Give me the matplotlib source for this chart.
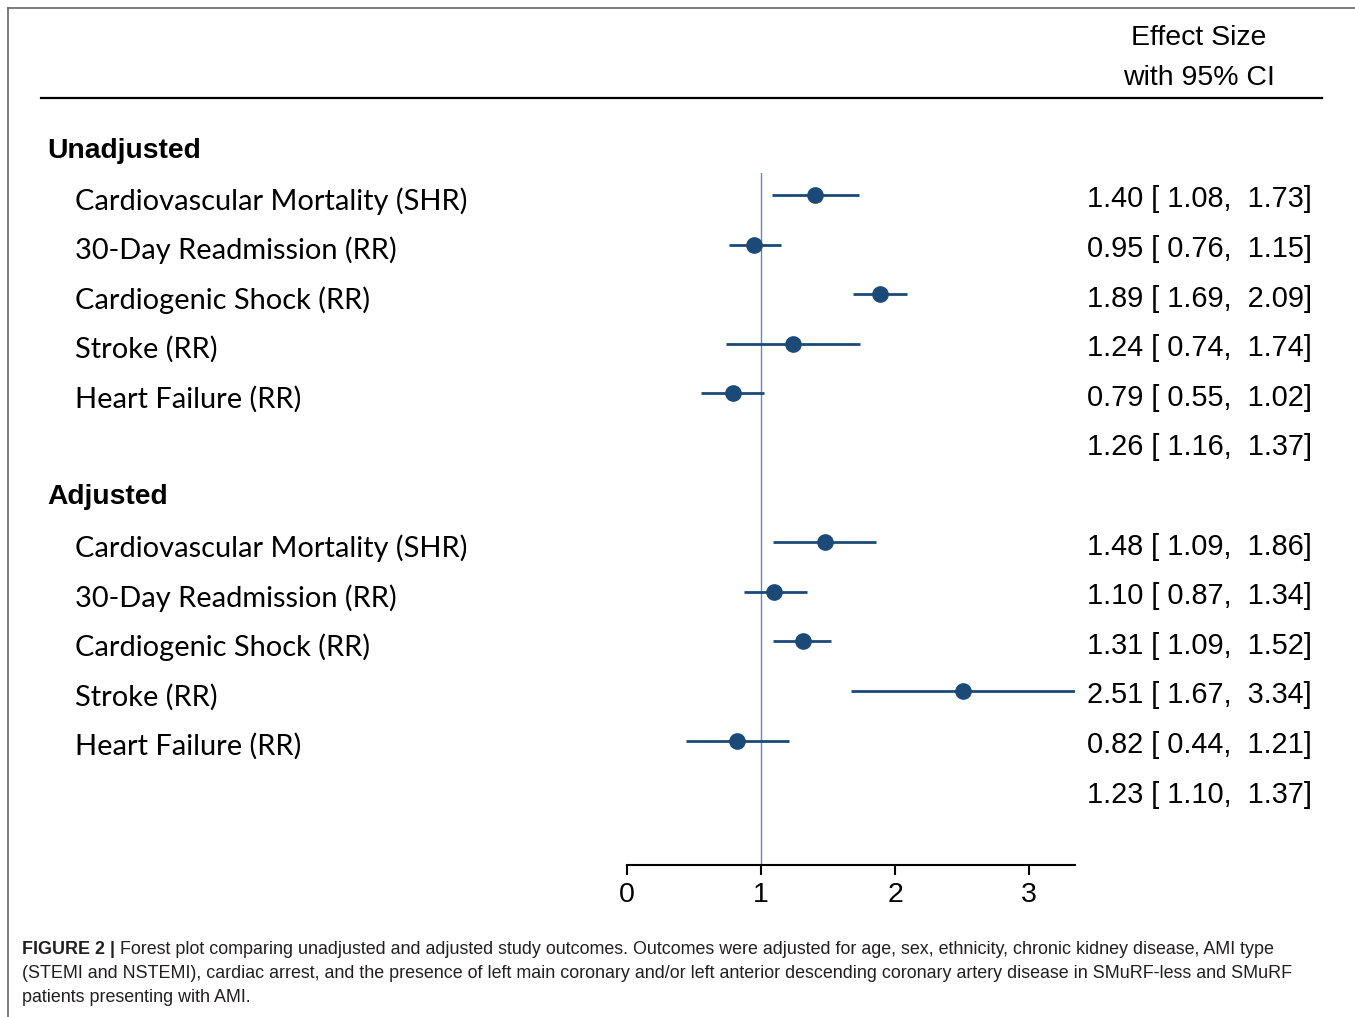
import matplotlib
matplotlib.use("Agg")
import matplotlib.pyplot as plt
from matplotlib.lines import Line2D
from matplotlib.transforms import blended_transform_factory

# ---- data ----
outcomes = ["Cardiovascular Mortality (SHR)", "30-Day Readmission (RR)",
            "Cardiogenic Shock (RR)", "Stroke (RR)", "Heart Failure (RR)"]

unadj_est = [1.40, 0.95, 1.89, 1.24, 0.79]
unadj_lo = [1.08, 0.76, 1.69, 0.74, 0.55]
unadj_hi = [1.73, 1.15, 2.09, 1.74, 1.02]
unadj_overall = [1.26, 1.16, 1.37]

adj_est = [1.48, 1.10, 1.31, 2.51, 0.82]
adj_lo = [1.09, 0.87, 1.09, 1.67, 0.44]
adj_hi = [1.86, 1.34, 1.52, 3.34, 1.21]
adj_overall = [1.23, 1.10, 1.37]

xticks = [0, 1, 2, 3]

caption_bold = "FIGURE 2 |"
caption_lines = [
    " Forest plot comparing unadjusted and adjusted study outcomes. Outcomes were adjusted for age, sex, ethnicity, chronic kidney disease, AMI type",
    "(STEMI and NSTEMI), cardiac arrest, and the presence of left main coronary and/or left anterior descending coronary artery disease in SMuRF-less and SMuRF",
    "patients presenting with AMI.",
]

W, H = 1355, 1017
fig = plt.figure(figsize=(W / 100, H / 100), dpi=100)

# axes placed so that 0 -> 627px, 1 unit = 134px; rows 49.6px apart
x0_px, unit_px = 627, 134
xmax = 3.34
top_px, bot_px = 173, 865
row0_px, row_px = 195, 49.6
ax = fig.add_axes([x0_px / W, 1 - bot_px / H, xmax * unit_px / W, (bot_px - top_px) / H])
ax.set_xlim(0, xmax)
ax.set_ylim(1 + (bot_px - row0_px) / row_px, 1 + (top_px - row0_px) / row_px)

marker_col = "#1b4a78"
ax.axvline(1, color="#5a88c8", lw=1.0, zorder=1)

unadj_rows = [1, 2, 3, 4, 5]
adj_rows = [8, 9, 10, 11, 12]
for est, lo, hi, rows in [(unadj_est, unadj_lo, unadj_hi, unadj_rows),
                          (adj_est, adj_lo, adj_hi, adj_rows)]:
    ax.hlines(rows, lo, hi, color=marker_col, lw=2.0, zorder=2)
    ax.plot(est, rows, "o", color=marker_col, ms=11, zorder=3)

for s in ["top", "left", "right"]:
    ax.spines[s].set_visible(False)
ax.spines["bottom"].set_linewidth(1.5)
ax.set_yticks([])
ax.set_xticks(xticks)
ax.tick_params(axis="x", length=7, width=1.5, pad=5, labelsize=20.5)
for t in ax.get_xticklabels():
    t.set_fontfamily("Liberation Sans")

# text in figure x, data y
tr = blended_transform_factory(fig.transFigure, ax.transData)
lab_font = dict(family="Lato", fontsize=20.9, va="center", transform=tr, clip_on=False)
val_font = dict(family="Liberation Sans", fontsize=20.8, va="center", ha="right",
                transform=tr, clip_on=False)
hdr_font = dict(family="Liberation Sans", fontsize=20.3, fontweight="bold",
                va="center", transform=tr, clip_on=False)

ax.text(47 / W, 0.11, "Unadjusted", **hdr_font)
ax.text(47 / W, 7.09, "Adjusted", **hdr_font)

def fmt(e, l, h):
    return f"{e:.2f} [ {l:.2f},  {h:.2f}]"

for name, r in zip(outcomes, unadj_rows):
    ax.text(75 / W, r + 0.12, name, **lab_font)
for name, r in zip(outcomes, adj_rows):
    ax.text(75 / W, r + 0.12, name, **lab_font)

for e, l, h, r in zip(unadj_est, unadj_lo, unadj_hi, unadj_rows):
    ax.text(1312 / W, r + 0.09, fmt(e, l, h), **val_font)
ax.text(1312 / W, 6 + 0.09, fmt(*unadj_overall), **val_font)
for e, l, h, r in zip(adj_est, adj_lo, adj_hi, adj_rows):
    ax.text(1312 / W, r + 0.09, fmt(e, l, h), **val_font)
ax.text(1312 / W, 13 + 0.09, fmt(*adj_overall), **val_font)

# column header and rule
fig.text(1199 / W, 1 - 38 / H, "Effect Size", family="Liberation Sans", fontsize=20.5,
         ha="center", va="center")
fig.text(1199 / W, 1 - 78 / H, "with 95% CI", family="Liberation Sans", fontsize=20.5,
         ha="center", va="center")
fig.add_artist(Line2D([41 / W, 1322 / W], [1 - 98 / H, 1 - 98 / H], color="black", lw=1.6))

# outer frame
fig.add_artist(Line2D([8 / W, 1], [1 - 8 / H, 1 - 8 / H], color="#666666", lw=1.2))
fig.add_artist(Line2D([8 / W, 8 / W], [0, 1 - 8 / H], color="#666666", lw=1.2))

# caption
cap_font = dict(family=["Liberation Sans Narrow", "Liberation Sans"], fontsize=12.85,
                va="center", color="#231f20")
fig.canvas.draw()
renderer = fig.canvas.get_renderer()
b = fig.text(22 / W, 1 - 949 / H, caption_bold, fontweight="bold", **cap_font)
bw = b.get_window_extent(renderer).width
fig.text((22 + bw) / W, 1 - 949 / H, caption_lines[0], **cap_font)
fig.text(22 / W, 1 - 973.5 / H, caption_lines[1], **cap_font)
fig.text(22 / W, 1 - 998 / H, caption_lines[2], **cap_font)

fig.savefig("out.png", dpi=100)
